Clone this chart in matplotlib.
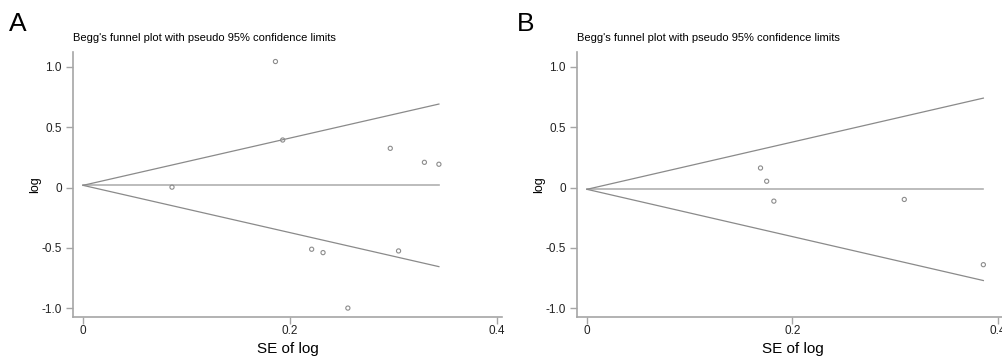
import numpy as np
import matplotlib
matplotlib.use('Agg')
import matplotlib.pyplot as plt

plt.rcParams['font.family'] = ['Liberation Sans', 'DejaVu Sans']

# Panel A: study standard errors and log effect sizes
se_a = [0.086, 0.186, 0.193, 0.221, 0.232, 0.256, 0.297, 0.305, 0.330, 0.344]
log_a = [0.003, 1.045, 0.394, -0.512, -0.540, -1.000, 0.325, -0.526, 0.209, 0.193]
center_a = 0.018

# Panel B
se_b = [0.169, 0.175, 0.182, 0.309, 0.386]
log_b = [0.162, 0.052, -0.113, -0.099, -0.640]
center_b = -0.015

yticks = [-1.0, -0.5, 0, 0.5, 1.0]
ytick_labels = ["-1.0", "-0.5", "0", "0.5", "1.0"]
xticks = [0, 0.2, 0.4]
xtick_labels = ["0", "0.2", "0.4"]

title = "Begg's funnel plot with pseudo 95% confidence limits"
axis_gray = "#a6a6a6"
line_gray = "#8a8a8a"


def funnel(ax, se, vals, center, xmax):
    se = np.asarray(se)
    top = se.max()
    xs = np.array([0, top])
    ax.plot(xs, [center, center], color="#b0b0b0", lw=1.2)
    ax.plot(xs, center + 1.96 * xs, color=line_gray, lw=0.9)
    ax.plot(xs, center - 1.96 * xs, color=line_gray, lw=0.9)
    ax.scatter(se, vals, s=9, facecolors="none", edgecolors="#8c8c8c", linewidths=0.8, zorder=3)
    ax.set_xlim(-0.0097, xmax)
    ax.set_ylim(-1.074, 1.124)
    ax.set_yticks(yticks)
    ax.set_yticklabels(ytick_labels)
    ax.set_xticks(xticks)
    ax.set_xticklabels(xtick_labels)
    for s in ["top", "right"]:
        ax.spines[s].set_visible(False)
    for s in ["left", "bottom"]:
        ax.spines[s].set_color(axis_gray)
        ax.spines[s].set_linewidth(1.2)
    ax.tick_params(axis="both", colors=axis_gray, labelcolor="#222222",
                   labelsize=8.5, length=5, width=1.0, pad=3)
    ax.tick_params(axis="x", pad=1)
    ax.set_xlabel("SE of log", fontsize=11, labelpad=3)
    ax.set_ylabel("log", fontsize=9, labelpad=0)


fig = plt.figure(figsize=(10.03, 3.58), dpi=100)
ax_a = fig.add_axes([73 / 1003, 1 - 317 / 358, 429 / 1003, 265 / 358])
ax_b = fig.add_axes([577 / 1003, 1 - 317 / 358, 431 / 1003, 265 / 358])

funnel(ax_a, se_a, log_a, center_a, 0.405)
funnel(ax_b, se_b, log_b, center_b, 0.41)

fig.text(73 / 1003, 1 - 38 / 358, title, fontsize=8, va="center", ha="left")
fig.text(577 / 1003, 1 - 38 / 358, title, fontsize=8, va="center", ha="left")
fig.text(9 / 1003, 1 - 24 / 358, "A", fontsize=19, va="center", ha="left")
fig.text(517 / 1003, 1 - 24 / 358, "B", fontsize=19, va="center", ha="left")

fig.savefig("out.png", dpi=100)
